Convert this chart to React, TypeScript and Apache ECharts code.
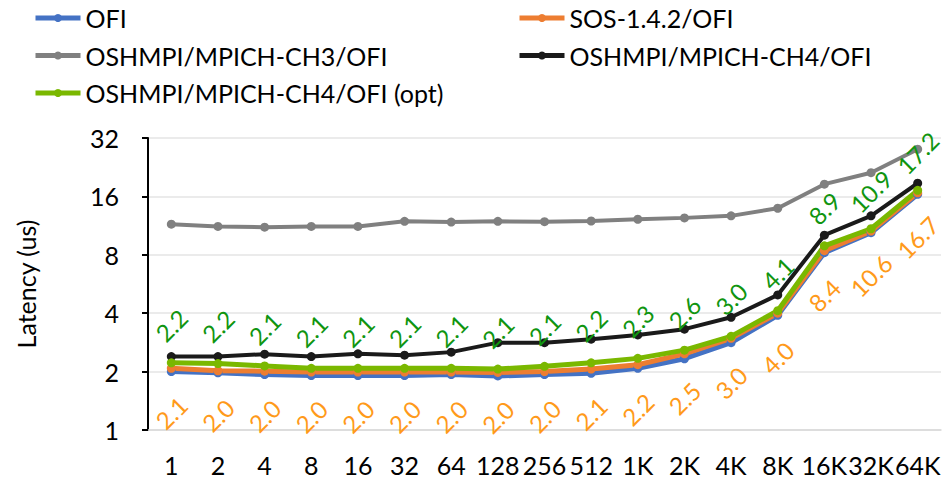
import React, { useEffect, useRef } from "react";
import * as echarts from "echarts";

const categories = ["1", "2", "4", "8", "16", "32", "64", "128", "256", "512", "1K", "2K", "4K", "8K", "16K", "32K", "64K"];
const ofi = [2.0, 1.97, 1.93, 1.91, 1.91, 1.91, 1.93, 1.9, 1.93, 1.96, 2.08, 2.33, 2.82, 3.9, 8.2, 10.4, 16.4];
const sos = [2.08, 2.02, 2.01, 1.99, 1.99, 1.99, 1.99, 1.98, 2.0, 2.06, 2.17, 2.47, 2.97, 4.0, 8.4, 10.6, 16.7];
const ch3 = [11.5, 11.2, 11.1, 11.2, 11.2, 11.9, 11.8, 11.9, 11.85, 11.95, 12.2, 12.4, 12.7, 13.9, 18.5, 21.2, 28.0];
const ch4 = [2.39, 2.39, 2.46, 2.39, 2.47, 2.43, 2.52, 2.82, 2.82, 2.94, 3.09, 3.31, 3.81, 4.97, 10.1, 12.7, 18.7];
const opt = [2.22, 2.2, 2.14, 2.08, 2.08, 2.08, 2.08, 2.06, 2.13, 2.22, 2.34, 2.58, 3.04, 4.12, 8.9, 10.9, 17.2];

const FONT = "Lato";

export default function App() {
  const ref = useRef<HTMLDivElement>(null);
  useEffect(() => {
    if (!ref.current) return;
    const chart = echarts.init(ref.current, null, { renderer: "svg" });
    const mk = (name: string, data: number[], color: string, width: number, extra: any = {}) => ({
      name,
      type: "line",
      data,
      symbol: "circle",
      symbolSize: 9,
      showSymbol: true,
      lineStyle: { color, width },
      itemStyle: { color },
      emphasis: { disabled: true },
      ...extra,
    });
    const legendText = { fontFamily: FONT, fontSize: 25, color: "#000", lineHeight: 30 };
    const legendCommon = {
      orient: "vertical",
      top: -2,
      itemWidth: 45,
      itemHeight: 10,
      itemGap: 7.5,
      textStyle: legendText,
      selectedMode: false,
      lineStyle: { width: 5 },
      itemStyle: { borderWidth: 0 },
    };
    const labelCommon = {
      show: true,
      rotate: 45,
      align: "center",
      verticalAlign: "middle",
      fontFamily: FONT,
      fontSize: 24,
      formatter: (p: any) => Number(p.value).toFixed(1),
    };
    chart.setOption({
      animation: false,
      textStyle: { fontFamily: FONT },
      legend: [
        {
          ...legendCommon,
          data: ["OFI", "OSHMPI/MPICH-CH3/OFI", "OSHMPI/MPICH-CH4/OFI (opt)"],
          left: 28,
        },
        {
          ...legendCommon,
          data: ["SOS-1.4.2/OFI", "OSHMPI/MPICH-CH4/OFI"],
          left: 512,
        },
      ],
      grid: { left: 148, right: 8, top: 138, bottom: 54, containLabel: false },
      xAxis: {
        type: "category",
        data: categories,
        boundaryGap: true,
        axisLine: { show: true, lineStyle: { color: "#d9d9d9", width: 1.5 } },
        axisTick: { show: false },
        axisLabel: { fontFamily: FONT, fontSize: 25, color: "#000", margin: 22, interval: 0 },
      },
      yAxis: {
        type: "log",
        logBase: 2,
        min: 1,
        max: 32,
        name: "Latency (us)",
        nameLocation: "middle",
        nameGap: 110,
        nameRotate: 90,
        nameTextStyle: { fontFamily: FONT, fontSize: 25, color: "#000" },
        axisLine: { show: true, lineStyle: { color: "#000", width: 2 } },
        axisTick: { show: true, length: 6, lineStyle: { color: "#000", width: 2 } },
        axisLabel: { fontFamily: FONT, fontSize: 25, color: "#000", margin: 29 },
        splitLine: { show: true, lineStyle: { color: "#ebebeb", width: 2 } },
      },
      series: [
        mk("OFI", ofi, "#4472c4", 5),
        mk("SOS-1.4.2/OFI", sos, "#ed7d31", 5, {
          label: { ...labelCommon, position: "bottom", distance: 40, color: "#ff9a1a" },
        }),
        mk("OSHMPI/MPICH-CH3/OFI", ch3, "#808080", 4),
        mk("OSHMPI/MPICH-CH4/OFI", ch4, "#1a1a1a", 4),
        mk("OSHMPI/MPICH-CH4/OFI (opt)", opt, "#7ab800", 5, {
          label: { ...labelCommon, position: "top", distance: 33, color: "#109510" },
        }),
      ],
    });
    return () => chart.dispose();
  }, []);
  return (
    <div
      ref={ref}
      style={{ position: "fixed", left: 0, top: 0, width: 949, height: 484, background: "#fff" }}
    />
  );
}
